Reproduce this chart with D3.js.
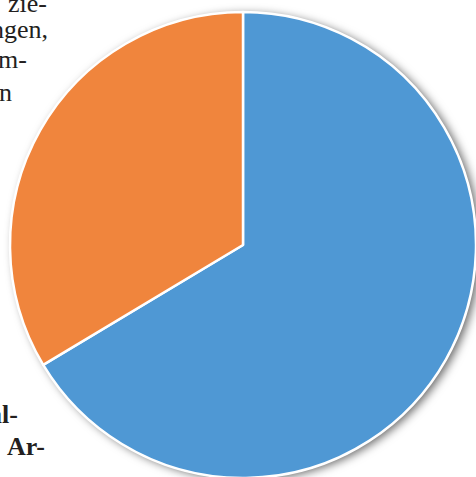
<!DOCTYPE html>
<html>
<head>
<meta charset="utf-8">
<script src="https://cdn.jsdelivr.net/npm/d3@7"></script>
<style>
  body { margin: 0; background: #fff; }
  svg { display: block; }
</style>
</head>
<body>
<svg id="chart"></svg>
<script>
// slice data, clockwise from 12 o'clock
const categories = ['A', 'B'];
const values = [66.4, 33.6];
const colors = ['#4F98D4', '#F0853D'];

// surrounding page text (clipped fragments)
const topLines = ['zie-', 'ngen,', 'm-', 'n'];
const bottomLines = ['al-', 'Ar-'];

const width = 476, height = 477;
const cx = 243, cy = 245, radius = 233;

const svg = d3.select('#chart')
    .attr('width', width)
    .attr('height', height);

const defs = svg.append('defs');
const filter = defs.append('filter')
    .attr('id', 'shadow')
    .attr('x', '-20%').attr('y', '-20%')
    .attr('width', '140%').attr('height', '140%');
filter.append('feDropShadow')
    .attr('dx', 4).attr('dy', 2)
    .attr('stdDeviation', 5)
    .attr('flood-color', '#000')
    .attr('flood-opacity', 0.6);

const pie = d3.pie().sort(null).value(d => d.value);
const arc = d3.arc().innerRadius(0).outerRadius(radius);

const data = categories.map((c, i) => ({ name: c, value: values[i] }));

const g = svg.append('g')
    .attr('transform', `translate(${cx}, ${cy})`);

g.append('circle')
    .attr('r', radius)
    .attr('fill', '#fff')
    .attr('filter', 'url(#shadow)');

g.selectAll('path')
    .data(pie(data))
    .join('path')
    .attr('d', arc)
    .attr('fill', (d, i) => colors[i])
    .attr('stroke', '#fff')
    .attr('stroke-width', 2.5)
    .attr('stroke-linejoin', 'round');

const topX = [47, 48, 27, 12];
const topY = [12, 38, 68, 101];
svg.append('g')
    .selectAll('text')
    .data(topLines)
    .join('text')
    .attr('x', (d, i) => topX[i])
    .attr('y', (d, i) => topY[i])
    .attr('text-anchor', 'end')
    .style('font-family', "'Liberation Serif', 'Times New Roman', serif")
    .style('font-size', '26px')
    .attr('fill', '#231f20')
    .text(d => d);

const botX = [18, 45];
const botY = [423, 455];
svg.append('g')
    .selectAll('text')
    .data(bottomLines)
    .join('text')
    .attr('x', (d, i) => botX[i])
    .attr('y', (d, i) => botY[i])
    .attr('text-anchor', 'end')
    .style('font-family', "'Liberation Serif', 'Times New Roman', serif")
    .style('font-size', '26px')
    .style('font-weight', 'bold')
    .attr('fill', '#231f20')
    .text(d => d);
</script>
</body>
</html>
